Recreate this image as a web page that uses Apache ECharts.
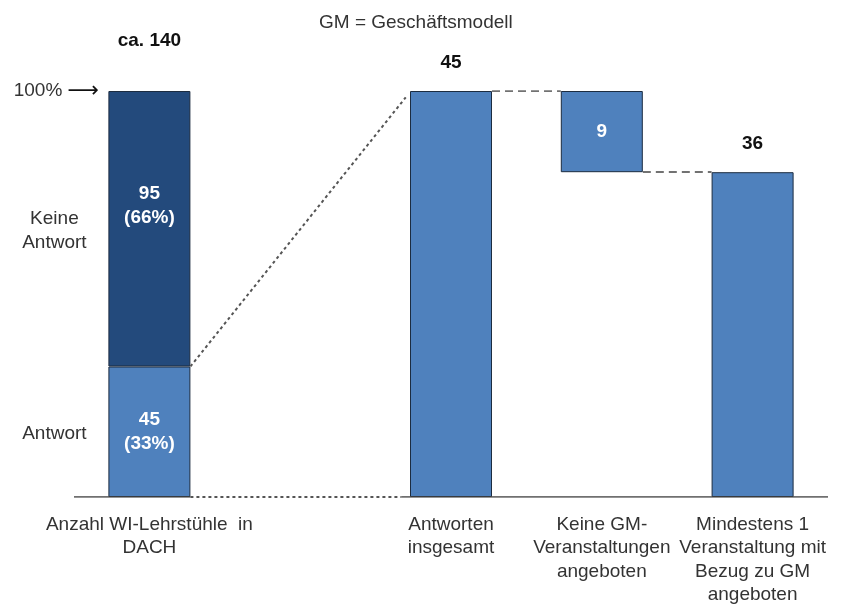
<!DOCTYPE html>
<html>
<head>
<meta charset="utf-8">
<script src="https://cdn.jsdelivr.net/npm/echarts@6/dist/echarts.min.js"></script>
<style>
  html, body { margin: 0; padding: 0; background: #fff; }
  #main { width: 846px; height: 609px; }
</style>
</head>
<body>
<div id="main"></div>
<script>
// Kategorien (Index 1 ist die Lücke zwischen Balken und Wasserfall)
let categories = ['Anzahl WI-Lehrstühle  in\nDACH', '', 'Antworten\ninsgesamt',
    'Keine GM-\nVeranstaltungen\nangeboten', 'Mindestens 1\nVeranstaltung mit\nBezug zu GM\nangeboten'];

// linker Balken: Antwort / Keine Antwort
let leftNames = ['Antwort', 'Keine\nAntwort'];
let leftValues = [45, 95];
let leftShares = ['33%', '66%'];
let leftTotalLabel = 'ca. 140';
let leftMax = 140;

// Wasserfall rechts
let wfBase = ['-', '-', 0, 36, 0];
let wfValues = ['-', '-', 45, 9, 36];
let rightMax = 45;

let FONT = "'Liberation Sans', Arial, sans-serif";
let DARK = '#234a7c';
let LIGHT = '#4f81bd';
let FS = 19;
let HALF = 0.272;        // halbe Balkenbreite in Kategorie-Einheiten

// 45 von 140 links -> Einheit der rechten Achse
let toRight = v => v * rightMax / leftMax;

let solidSegs = [[[-0.5, 0], [HALF, 0]], [[1.67, 0], [4.5, 0]]];
let dottedSegs = [[[HALF, 0], [1.67, 0]], [[HALF, toRight(leftValues[0])], [1.7, 44.3]]];
let dashedSegs = [[[2 + HALF, wfValues[2]], [3 - HALF, wfValues[2]]],
                  [[3 + HALF, wfBase[3]], [4 - HALF, wfBase[3]]]];

let myChart = echarts.init(document.getElementById('main'));

let segData = (segs, type) => segs.map(s => ({
    coords: s,
    lineStyle: { type: type }
}));

let option = {
    animation: false,
    textStyle: { fontFamily: FONT },
    title: {
        text: 'GM = Geschäftsmodell',
        left: 314,
        top: 8,
        textStyle: { fontSize: FS, fontWeight: 'normal', color: '#333', fontFamily: FONT }
    },
    grid: { left: 74, right: 18, top: 91, bottom: 112 },
    xAxis: [{
        type: 'category',
        data: categories,
        axisLine: { show: false },
        axisTick: { show: false },
        axisLabel: {
            interval: 0,
            margin: 16,
            fontSize: FS,
            lineHeight: 23.5,
            color: '#333',
            fontFamily: FONT
        }
    }, {
        type: 'value',
        min: -0.5,
        max: 4.5,
        show: false
    }],
    yAxis: [{
        type: 'value', min: 0, max: leftMax, show: false, splitLine: { show: false }
    }, {
        type: 'value', min: 0, max: rightMax, show: false, splitLine: { show: false }
    }],
    series: [{
        name: 'Antwort',
        type: 'bar',
        stack: 'left',
        barWidth: 82,
        barGap: '-100%',
        data: [leftValues[0], '-', '-', '-', '-'],
        itemStyle: { color: LIGHT, borderColor: '#1c2c40', borderWidth: 1 },
        label: {
            show: true,
            position: 'inside',
            formatter: leftValues[0] + '\n(' + leftShares[0] + ')',
            color: '#fff', fontWeight: 'bold', fontSize: FS, lineHeight: 24, fontFamily: FONT
        },
        markPoint: {
            symbolSize: 0,
            silent: true,
            label: { show: true, color: '#333', fontSize: FS, lineHeight: 24, fontFamily: FONT },
            data: [{ coord: [0, leftValues[0] / 2],
                     label: { formatter: leftNames[0], offset: [-95, 2] } }]
        }
    }, {
        name: 'Keine Antwort',
        type: 'bar',
        stack: 'left',
        barWidth: 82,
        barGap: '-100%',
        data: [leftValues[1], '-', '-', '-', '-'],
        itemStyle: { color: DARK, borderColor: '#1c2c40', borderWidth: 1 },
        label: {
            show: true,
            position: 'inside',
            offset: [0, -23],
            formatter: leftValues[1] + '\n(' + leftShares[1] + ')',
            color: '#fff', fontWeight: 'bold', fontSize: FS, lineHeight: 24, fontFamily: FONT
        },
        markPoint: {
            symbolSize: 0,
            silent: true,
            label: { show: true, color: '#333', fontSize: FS, lineHeight: 24, fontFamily: FONT },
            data: [{
                coord: [0, leftValues[0] + leftValues[1] / 2],
                label: { formatter: leftNames[1], offset: [-95, 2] }
            }, {
                coord: [0, leftMax],
                label: { formatter: leftTotalLabel, offset: [0, -50], fontWeight: 'bold', color: '#111' }
            }, {
                coord: [0, leftMax],
                label: {
                    formatter: '{a|100%} {b|⟶}',
                    offset: [-93, 0],
                    rich: {
                        a: { fontSize: FS, color: '#333', fontFamily: FONT },
                        b: { fontSize: 22, color: '#111', fontFamily: 'DejaVu Sans' }
                    }
                }
            }]
        }
    }, {
        name: 'Basis',
        type: 'bar',
        stack: 'right',
        yAxisIndex: 1,
        barWidth: 82,
        barGap: '-100%',
        silent: true,
        data: wfBase,
        itemStyle: { color: 'transparent', borderWidth: 0 }
    }, {
        name: 'Wert',
        type: 'bar',
        stack: 'right',
        yAxisIndex: 1,
        barWidth: 82,
        barGap: '-100%',
        itemStyle: { color: LIGHT, borderColor: '#1c2c40', borderWidth: 1 },
        data: wfValues.map((v, i) => {
            if (v === '-') return v;
            if (i === 3) {
                return { value: v, label: { show: true, position: 'inside', color: '#fff' } };
            }
            return { value: v, label: { show: true, position: 'top', distance: 19, color: '#111' } };
        }),
        label: { fontWeight: 'bold', fontSize: FS, fontFamily: FONT }
    }, {
        name: 'Linien',
        type: 'lines',
        coordinateSystem: 'cartesian2d',
        xAxisIndex: 1,
        yAxisIndex: 1,
        silent: true,
        z: 5,
        lineStyle: { color: '#404040', width: 1.5, opacity: 1 },
        data: segData(solidSegs, 'solid')
    }, {
        name: 'Punkte',
        type: 'lines',
        coordinateSystem: 'cartesian2d',
        xAxisIndex: 1,
        yAxisIndex: 1,
        silent: true,
        z: 5,
        lineStyle: { color: '#555', width: 2, opacity: 1 },
        data: segData(dottedSegs, [3, 3])
    }, {
        name: 'Striche',
        type: 'lines',
        coordinateSystem: 'cartesian2d',
        xAxisIndex: 1,
        yAxisIndex: 1,
        silent: true,
        z: 5,
        lineStyle: { color: '#444', width: 1.5, opacity: 1 },
        data: segData(dashedSegs, [8, 5])
    }]
};

myChart.setOption(option);
</script>
</body>
</html>
